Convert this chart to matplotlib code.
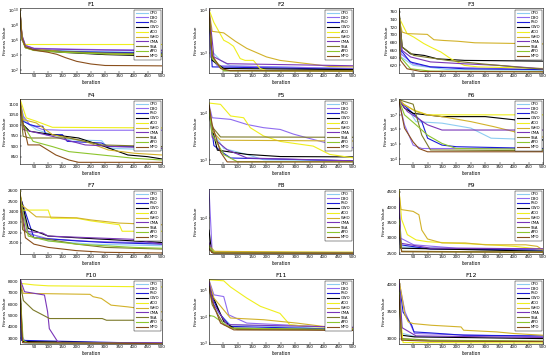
import matplotlib
matplotlib.use("Agg")
import matplotlib.pyplot as plt
from matplotlib.ticker import NullFormatter, NullLocator
import numpy as np

ALGORITHMS = ["CPO", "DBO", "PSO", "GWO", "ACO", "WHO", "OMA", "SSA", "APO", "MPO"]
TITLES = ["F1", "F2", "F3", "F4", "F5", "F6", "F7", "F8", "F9", "F10", "F11", "F12"]
X_TICKS = [50, 100, 150, 200, 250, 300, 350, 400, 450, 500]

# each series: [iteration, best fitness] breakpoints
F1_CURVES = [
    [[1, 4e9], [8, 2.5e6], [20, 1.3e5], [50, 5.6e4], [150, 3.2e4], [300, 2.5e4], [500, 2.0e4]],
    [[1, 6e9], [8, 4e6], [20, 1.6e5], [50, 7e4], [150, 5.6e4], [300, 4.5e4], [500, 4e4]],
    [[1, 5e9], [8, 2e6], [20, 1e5], [50, 5e4], [150, 2.8e4], [300, 2e4], [500, 1.6e4]],
    [[1, 8e9], [8, 1.6e6], [20, 1e5], [50, 4e4], [150, 2e4], [300, 1e4], [500, 6.3e3]],
    [[1, 1e10], [8, 3e6], [15, 2.2e5], [500, 2.2e5]],
    [[1, 3e9], [8, 3e6], [20, 1.3e5], [50, 6.3e4], [150, 2.5e4], [300, 1.26e4], [500, 8e3]],
    [[1, 6e9], [8, 3e6], [20, 1.6e5], [50, 6.3e4], [150, 5e4], [300, 4e4], [500, 3.2e4]],
    [[1, 2.5e9], [8, 1e6], [20, 8e4], [50, 4e4], [150, 2.5e4], [300, 1.6e4], [500, 1.26e4]],
    [[1, 4e9], [8, 1.26e6], [20, 8e4], [50, 3.5e4], [150, 2e4], [300, 1.26e4], [500, 1e4]],
    [[1, 3e9], [8, 1.6e6], [20, 1e5], [50, 4e4], [100, 2e4], [130, 1.1e4], [160, 4e3],
     [200, 1.26e3], [250, 560], [300, 355], [500, 316]],
]
F2_CURVES = [
    [[1, 1e4], [6, 1.2e3], [41, 690], [75, 520], [500, 445]],
    [[1, 9e3], [6, 830], [30, 520], [500, 450]],
    [[1, 9.5e3], [12, 490], [500, 430]],
    [[1, 1e4], [12, 690], [52, 450], [500, 425]],
    [[1, 1e4], [18, 5.1e3], [52, 2.0e3], [69, 1.75e3], [86, 1.45e3], [109, 760], [126, 690],
     [155, 690], [178, 450], [200, 400], [500, 390]],
    [[1, 1e4], [12, 3.2e3], [52, 2.95e3], [92, 1.9e3], [132, 1.3e3], [200, 830], [247, 690],
     [362, 560], [419, 500], [500, 490]],
    [[1, 1e4], [18, 830], [64, 580], [500, 520]],
    [[1, 9e3], [12, 830], [52, 400], [500, 400]],
    [[1, 8.5e3], [12, 760], [52, 400], [500, 398]],
    [[1, 9e3], [12, 900], [41, 450], [75, 400], [500, 395]],
]
F3_CURVES = [
    [[1, 755], [8, 642], [50, 620], [170, 609], [500, 607]],
    [[1, 760], [8, 650], [50, 624], [110, 616], [500, 609]],
    [[1, 750], [8, 659], [40, 629], [110, 616], [230, 611], [500, 609]],
    [[1, 765], [12, 668], [41, 650], [88, 646], [134, 637], [228, 633], [500, 631]],
    [[1, 745], [29, 703], [52, 694], [87, 677], [110, 668], [146, 655], [181, 637], [227, 620],
     [274, 616], [500, 612]],
    [[1, 740], [12, 707], [29, 703], [99, 701], [122, 687], [157, 685], [205, 683], [264, 679],
     [346, 678], [500, 676]],
    [[1, 758], [12, 659], [41, 642], [110, 629], [228, 624], [346, 620], [500, 611]],
    [[1, 762], [12, 668], [52, 646], [169, 633], [287, 624], [404, 616], [500, 610]],
    [[1, 748], [6, 642], [41, 611], [110, 605], [500, 603.5]],
    [[1, 752], [6, 633], [29, 611], [76, 604], [500, 603]],
]
F4_CURVES = [
    [[1, 1110], [17, 1020], [58, 979], [115, 955], [173, 931], [288, 926], [311, 890], [500, 882]],
    [[1, 1120], [12, 1044], [35, 1003], [81, 979], [150, 976], [500, 976]],
    [[1, 1115], [12, 1019], [35, 1003], [58, 995], [81, 995], [92, 955], [150, 955], [167, 923],
     [288, 915], [311, 898], [500, 898]],
    [[1, 1105], [12, 1003], [35, 971], [115, 955], [207, 939], [299, 898], [380, 858], [449, 850],
     [500, 839]],
    [[1, 1125], [23, 1035], [58, 1019], [115, 990], [500, 987]],
    [[1, 1118], [12, 1027], [58, 1011], [115, 955], [230, 923], [311, 882], [404, 866], [500, 858]],
    [[1, 1112], [12, 979], [115, 947], [230, 906], [346, 898], [500, 890]],
    [[1, 1100], [12, 947], [35, 939], [173, 939], [230, 923], [288, 906], [500, 898]],
    [[1, 1108], [12, 1003], [47, 923], [115, 898], [173, 874], [288, 858], [404, 842], [500, 834]],
    [[1, 1122], [8, 1027], [17, 979], [29, 906], [70, 906], [127, 858], [173, 834], [207, 823],
     [500, 823]],
]
F5_CURVES = [
    [[1, 1.3e4], [12, 4.1e3], [52, 1.74e3], [133, 1.29e3], [190, 1e3], [500, 950]],
    [[1, 1.5e4], [12, 7.8e3], [76, 7.2e3], [133, 5.6e3], [190, 4.8e3], [248, 4.4e3], [294, 3.5e3],
     [362, 2.7e3], [431, 2.1e3], [500, 1.8e3]],
    [[1, 1.25e4], [18, 2e3], [52, 1.37e3], [76, 1.09e3], [500, 950]],
    [[1, 1.2e4], [6, 6.6e3], [30, 1.6e3], [133, 1.3e3], [248, 1.17e3], [500, 1.15e3]],
    [[1, 1.6e4], [41, 1.5e4], [76, 8.5e3], [121, 7.8e3], [144, 4.8e3], [190, 3.2e3], [248, 2.45e3],
     [362, 1.95e3], [419, 1.3e3], [500, 1.1e3]],
    [[1, 1.5e4], [12, 4.1e3], [41, 2.6e3], [500, 2.5e3]],
    [[1, 1.35e4], [12, 3e3], [64, 1.63e3], [133, 1.09e3], [500, 950]],
    [[1, 1.4e4], [12, 5e3], [41, 3.05e3], [500, 3.0e3]],
    [[1, 1.1e4], [12, 3.5e3], [52, 1.29e3], [99, 910], [500, 910]],
    [[1, 1.4e4], [12, 5.6e3], [41, 1.45e3], [64, 900], [500, 900]],
]
F6_CURVES = [
    [[1, 9e7], [30, 2.7e7], [60, 3.3e6], [150, 2.6e6], [250, 1.2e6], [320, 2.5e5], [500, 1.9e5]],
    [[1, 8e7], [20, 2e6], [50, 8.5e4], [80, 5e4], [500, 5e4]],
    [[1, 9e7], [30, 2.7e7], [80, 3.3e6], [100, 2.5e5], [150, 8.5e4], [200, 6.6e4], [500, 5e4]],
    [[1, 1e8], [20, 2.7e7], [50, 1.2e7], [150, 7.2e6], [300, 7.2e6], [400, 4.4e6], [430, 3.3e6],
     [485, 2.6e6], [495, 1.9e5], [500, 1.9e5]],
    [[1, 1e8], [10, 5.9e7], [50, 2.1e7], [100, 9.5e6], [500, 9.5e6]],
    [[1, 1e8], [20, 4.6e7], [60, 1.6e7], [100, 9.5e6], [150, 7.2e6], [250, 3.3e6], [330, 1.5e6],
     [400, 6.9e5], [430, 3.2e5], [500, 3e5]],
    [[1, 9.5e7], [30, 1.6e7], [100, 2e6], [150, 8.9e5], [500, 8.9e5]],
    [[1, 1e8], [50, 5e7], [80, 4e5], [110, 4e4], [500, 3.5e4]],
    [[1, 9.5e7], [20, 9.5e6], [60, 2e6], [100, 4e5], [150, 1.1e5], [200, 5e4], [500, 4.4e4]],
    [[1, 8.5e7], [20, 1.2e6], [50, 1.4e5], [70, 5e4], [100, 3e4], [500, 3e4]],
]
F7_CURVES = [
    [[1, 2530], [30, 2200], [100, 2120], [250, 2089], [500, 2074]],
    [[1, 2550], [30, 2190], [100, 2140], [250, 2115], [500, 2100]],
    [[1, 2545], [50, 2150], [200, 2120], [300, 2105], [500, 2089]],
    [[1, 2560], [30, 2240], [100, 2166], [200, 2150], [300, 2135], [400, 2120], [500, 2105]],
    [[1, 2600], [8, 2414], [100, 2414], [110, 2336], [200, 2336], [250, 2311], [350, 2274],
     [360, 2212], [500, 2212]],
    [[1, 2580], [8, 2460], [58, 2350], [200, 2340], [250, 2320], [300, 2305], [350, 2290],
     [500, 2274]],
    [[1, 2540], [20, 2212], [80, 2196], [100, 2166], [250, 2150], [400, 2135], [500, 2089]],
    [[1, 2580], [10, 2228], [50, 2150], [100, 2135], [200, 2089], [300, 2058], [500, 2042]],
    [[1, 2520], [30, 2166], [100, 2120], [200, 2089], [400, 2058], [500, 2050]],
    [[1, 2500], [20, 2150], [50, 2089], [100, 2058], [200, 2027], [300, 2011], [500, 2005]],
]
F8_CURVES = [
    [[1, 2.8e3], [20, 2.26e3], [500, 2.23e3]],
    [[1, 3.5e4], [12, 2.3e3], [500, 2.25e3]],
    [[1, 2.9e3], [15, 2.25e3], [500, 2.22e3]],
    [[1, 6e3], [10, 2.3e3], [500, 2.24e3]],
    [[1, 3e3], [10, 2.35e3], [150, 2.32e3], [500, 2.3e3]],
    [[1, 3.2e3], [20, 2.4e3], [300, 2.33e3], [500, 2.3e3]],
    [[1, 3.5e3], [15, 2.28e3], [500, 2.24e3]],
    [[1, 2.7e3], [20, 2.24e3], [500, 2.22e3]],
    [[1, 3e3], [20, 2.24e3], [500, 2.21e3]],
    [[1, 2.6e3], [15, 2.22e3], [500, 2.205e3]],
]
F9_CURVES = [
    [[1, 3900], [10, 2700], [500, 2570]],
    [[1, 4200], [6, 2990], [52, 2770], [200, 2660], [500, 2640]],
    [[1, 4000], [6, 2770], [110, 2630], [500, 2600]],
    [[1, 3800], [6, 2660], [500, 2560]],
    [[1, 4550], [10, 3600], [30, 3100], [60, 2930], [100, 2870], [200, 2820], [300, 2780],
     [400, 2720], [500, 2620]],
    [[1, 4500], [8, 3920], [50, 3860], [70, 3750], [80, 3250], [100, 2960], [150, 2830],
     [230, 2830], [300, 2770], [440, 2770], [480, 2720], [500, 2600]],
    [[1, 4300], [8, 2820], [110, 2660], [500, 2640]],
    [[1, 3500], [10, 2560], [500, 2530]],
    [[1, 3600], [10, 2550], [500, 2530]],
    [[1, 3400], [10, 2545], [500, 2529]],
]
F10_CURVES = [
    [[1, 8000], [6, 3000], [15, 2560], [500, 2530]],
    [[1, 7600], [8, 3200], [20, 2600], [500, 2540]],
    [[1, 7000], [6, 2800], [500, 2520]],
    [[1, 7500], [10, 2700], [500, 2530]],
    [[1, 7820], [50, 7680], [100, 7600], [500, 7500]],
    [[1, 8100], [12, 6940], [247, 6850], [258, 6640], [287, 6490], [321, 5900], [379, 5750],
     [425, 5600], [500, 5310]],
    [[1, 8200], [17, 7080], [87, 6790], [98, 5310], [104, 3830], [133, 2700], [150, 2600],
     [500, 2590]],
    [[1, 7900], [13, 6300], [47, 5480], [105, 4720], [290, 4720], [305, 4570], [500, 4570]],
    [[1, 7200], [12, 2800], [30, 2580], [500, 2520]],
    [[1, 6900], [10, 2600], [500, 2510]],
]
F11_CURVES = [
    [[1, 1.8e5], [18, 2e4], [75, 4.9e3], [500, 3.2e3]],
    [[1, 2.4e5], [18, 6.5e4], [52, 5.6e4], [69, 1.15e4], [132, 5.6e3], [500, 3.6e3]],
    [[1, 1.6e5], [12, 5e4], [41, 1.15e4], [75, 4.2e3], [500, 3.2e3]],
    [[1, 1.5e5], [12, 6.5e4], [52, 6.5e3], [87, 3.6e3], [500, 3e3]],
    [[1, 2.4e5], [52, 2.2e5], [75, 1.3e5], [132, 4.9e4], [179, 2.4e4], [247, 1.3e4], [281, 4.9e3],
     [340, 4.2e3], [420, 3.9e3], [500, 3.6e3]],
    [[1, 2.2e5], [18, 4.9e4], [75, 8.7e3], [190, 7.5e3], [305, 5.6e3], [397, 4.2e3], [500, 3.6e3]],
    [[1, 2e5], [18, 2.75e4], [64, 4.9e3], [500, 3.9e3]],
    [[1, 1.3e5], [12, 2.75e4], [52, 4.9e3], [98, 3.2e3], [500, 3.1e3]],
    [[1, 1.1e4], [18, 1e4], [75, 3.6e3], [500, 3.2e3]],
    [[1, 1.2e5], [12, 3.7e4], [41, 5.6e3], [87, 3.1e3], [500, 3e3]],
]
F12_CURVES = [
    [[1, 3950], [10, 3100], [55, 3040], [500, 3010]],
    [[1, 4050], [22, 3490], [55, 3093], [500, 3031]],
    [[1, 4080], [15, 3490], [45, 3246], [53, 3123], [110, 3105], [225, 3062], [500, 3050]],
    [[1, 4000], [10, 3062], [55, 3031], [500, 3000]],
    [[1, 3700], [15, 2927], [500, 2920]],
    [[1, 4090], [22, 3430], [33, 3307], [50, 3277], [113, 3246], [216, 3215], [225, 3154],
     [340, 3123], [400, 3093], [500, 3062]],
    [[1, 4060], [12, 3200], [60, 3050], [500, 3020]],
    [[1, 3900], [10, 3000], [110, 2970], [500, 2952]],
    [[1, 3850], [10, 2990], [100, 2965], [500, 2950]],
    [[1, 3800], [10, 2970], [110, 2952], [500, 2945]],
]

ALL_CURVES = [F1_CURVES, F2_CURVES, F3_CURVES, F4_CURVES, F5_CURVES, F6_CURVES,
              F7_CURVES, F8_CURVES, F9_CURVES, F10_CURVES, F11_CURVES, F12_CURVES]

COLORS = ["#8ECDF2", "#8F6CF0", "#1C1CD8", "#000000", "#EFEF1E",
          "#D2B22A", "#7A36B8", "#7C7A2A", "#8DC52E", "#8A4F1C"]

# (scale, ylim, yticks)
AXIS_SPECS = [
    ("log", (10**1.55, 10**10.2), [1e2, 1e4, 1e6, 1e8, 1e10]),
    ("log", (10**2.55, 10**4.04), [1e3, 1e4]),
    ("linear", (600, 770), [620, 640, 660, 680, 700, 720, 740, 760]),
    ("linear", (815, 1125), [850, 900, 950, 1000, 1050, 1100]),
    ("log", (10**2.91, 10**4.29), [1e3, 1e4]),
    ("log", (10**3.65, 10**8.05), [1e4, 1e5, 1e6, 1e7, 1e8]),
    ("linear", (1995, 2615), [2100, 2200, 2300, 2400, 2500, 2600]),
    ("log", (10**3.33, 10**4.55), [1e4]),
    ("linear", (2470, 4590), [2500, 3000, 3500, 4000, 4500]),
    ("linear", (2480, 8200), [3000, 4000, 5000, 6000, 7000, 8000]),
    ("log", (10**2.96, 10**5.41), [1e3, 1e4, 1e5]),
    ("linear", (2900, 4100), [3000, 3500, 4000]),
]

W, H = 550, 358
fig = plt.figure(figsize=(W / 100, H / 100), dpi=100)
fig.patch.set_facecolor("white")

col_left = [20, 209, 399]
col_w = [142, 144, 144]
row_top = [8, 99, 189, 279]
ax_h = 65

for i in range(12):
    r, c = divmod(i, 3)
    ax = fig.add_axes([col_left[c] / W, 1 - (row_top[r] + ax_h) / H, col_w[c] / W, ax_h / H])
    scale, ylim, yticks = AXIS_SPECS[i]
    for k, series in enumerate(ALL_CURVES[i]):
        arr = np.array(series, dtype=float)
        ax.plot(arr[:, 0], arr[:, 1], color=COLORS[k], lw=0.8, label=ALGORITHMS[k])
    ax.set_yscale(scale)
    ax.set_xlim(1, 500)
    ax.set_ylim(*ylim)
    ax.set_xticks(X_TICKS)
    ax.set_yticks(yticks)
    if scale == "log":
        ax.yaxis.set_minor_formatter(NullFormatter())
        ax.yaxis.set_minor_locator(NullLocator())
    ax.tick_params(axis="both", which="both", direction="in", labelsize=3.0,
                   length=1.5, width=0.3, pad=1.0)
    for s in ax.spines.values():
        s.set_linewidth(0.4)
    ax.set_title(TITLES[i], fontsize=4.5, pad=1.5)
    ax.set_xlabel("Iteration", fontsize=3.3, labelpad=1)
    ax.set_ylabel("Fitness Value", fontsize=3.2, labelpad=0.6)
    leg = ax.legend(loc="upper right", fontsize=2.7, handlelength=3.2, labelspacing=0.22,
                    borderpad=0.35, handletextpad=0.5, fancybox=False, framealpha=1,
                    borderaxespad=0.4)
    leg.get_frame().set_edgecolor("black")
    leg.get_frame().set_linewidth(0.3)
    for ln in leg.get_lines():
        ln.set_linewidth(0.8)

fig.savefig("out.png", dpi=100, facecolor="white")
